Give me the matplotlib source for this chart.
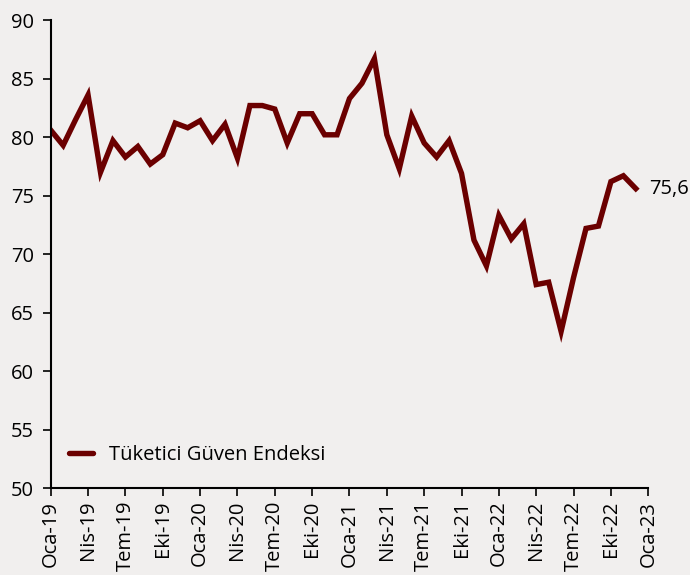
import matplotlib
matplotlib.use("Agg")
import matplotlib.pyplot as plt

# Tüketici Güven Endeksi, Oca-19 .. Ara-22
values = [80.6, 79.3, 81.5, 83.6, 77.0, 79.7, 78.3, 79.2, 77.7, 78.5, 81.2, 80.8,
          81.4, 79.7, 81.1, 78.2, 82.7, 82.7, 82.4, 79.5, 82.0, 82.0, 80.2, 80.2,
          83.3, 84.6, 86.7, 80.2, 77.3, 81.8, 79.5, 78.3, 79.7, 76.9, 71.2, 69.0,
          73.3, 71.3, 72.6, 67.4, 67.6, 63.4, 68.0, 72.2, 72.4, 76.2, 76.7, 75.6]
months = ["Oca", "Nis", "Tem", "Eki"]
years = ["19", "20", "21", "22", "23"]
tick_labels = [f"{m}-{y}" for y in years for m in months][:17]
series_name = "Tüketici Güven Endeksi"
last_label = "75,6"

bg = "#f1efee"
line_color = "#6b0000"

plt.rcParams["font.family"] = ["Open Sans", "DejaVu Sans"]

fig = plt.figure(figsize=(6.9, 5.75), dpi=100, facecolor=bg)
ax = fig.add_axes([0.0735, 0.151, 0.866, 0.814])
ax.set_facecolor(bg)

x = list(range(len(values)))
ax.plot(x, values, color=line_color, lw=3.9, solid_joinstyle="miter",
        label=series_name)
ax.text(x[-1] + 1.1, values[-1], last_label, fontsize=14.5, va="center", ha="left")

ax.set_xlim(0, 48)
ax.set_ylim(50, 90)
ax.set_yticks(range(50, 91, 5))
ax.set_xticks(range(0, 49, 3))
ax.set_xticklabels(tick_labels, rotation=90)
ax.tick_params(axis="both", labelsize=14.5, direction="out", length=6, width=1.2,
               pad=3)
ax.tick_params(axis="y", pad=6)
for s in ["top", "right"]:
    ax.spines[s].set_visible(False)
for s in ["left", "bottom"]:
    ax.spines[s].set_linewidth(1.5)

leg = ax.legend(loc="lower left", bbox_to_anchor=(0.0, 0.01), frameon=False,
                fontsize=14.5, handlelength=1.2, handletextpad=0.8)
for h in leg.get_lines():
    h.set_solid_capstyle("round")

fig.savefig("out.png", dpi=100, facecolor=bg)
